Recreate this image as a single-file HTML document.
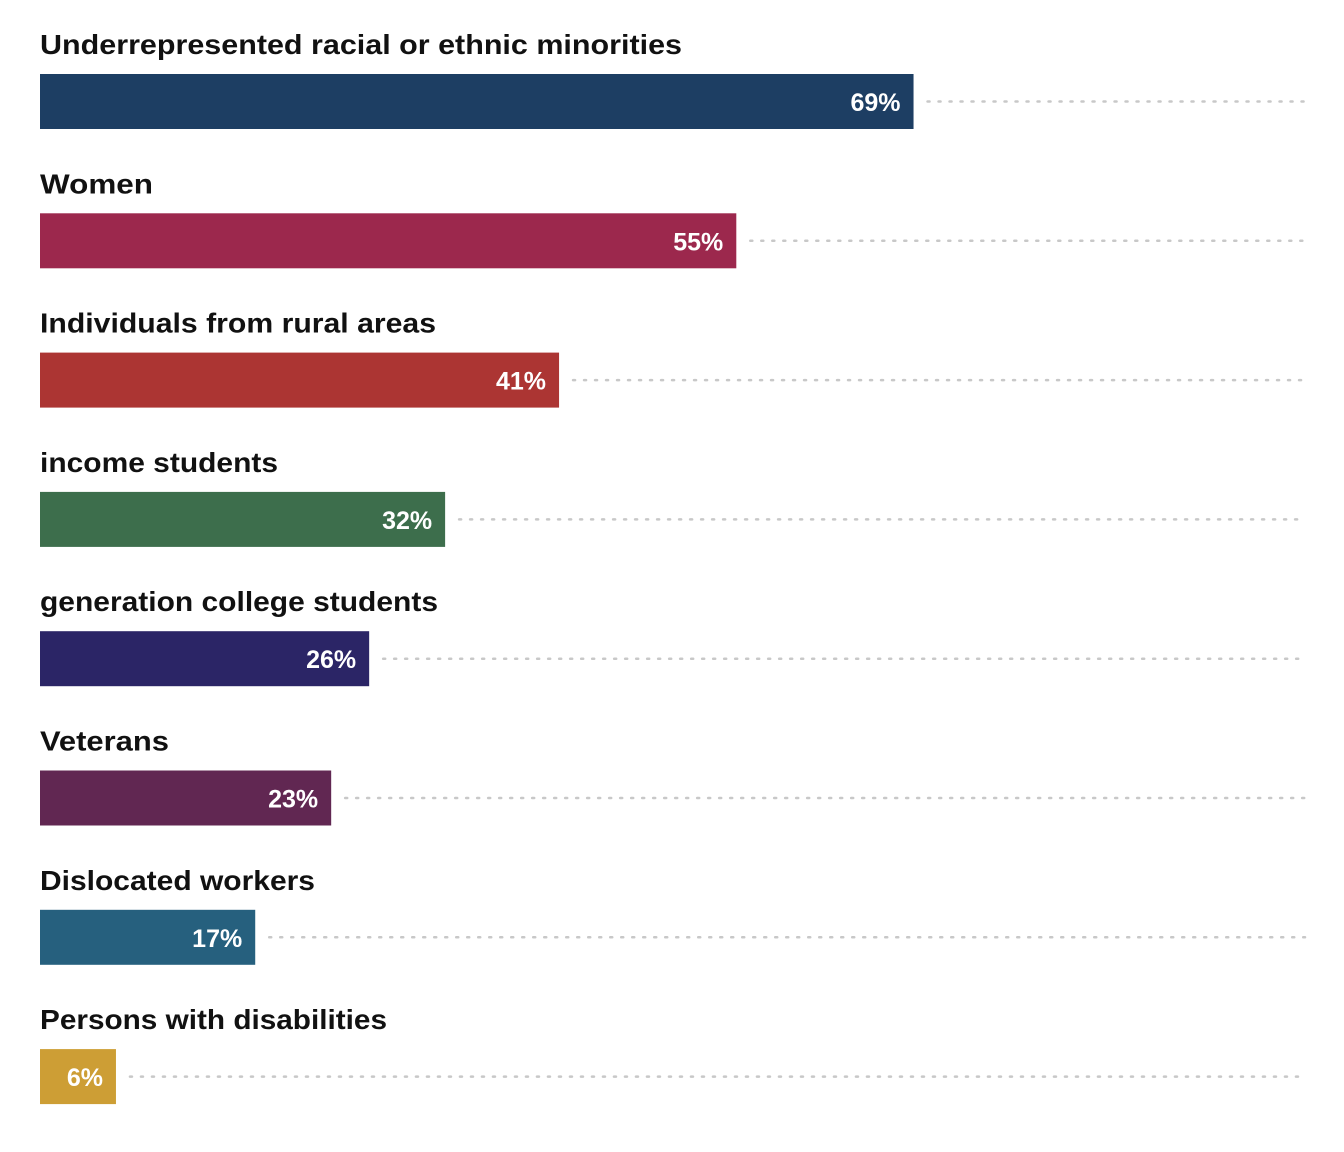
<!DOCTYPE html>
<html><head><meta charset="utf-8">
<style>
html,body{margin:0;padding:0;background:#fff;}
svg{display:block;}
text{font-family:"Liberation Sans",sans-serif;font-weight:bold;}
</style></head>
<body>
<svg id="chart" width="1344" height="1152" viewBox="0 0 1344 1152" xmlns="http://www.w3.org/2000/svg"></svg>
<script>
const categories = ["Underrepresented racial or ethnic minorities","Women","Individuals from rural areas","income students","generation college students","Veterans","Dislocated workers","Persons with disabilities"];
const values = [69,55,41,32,26,23,17,6];
const colors = ["#1d3e63","#9c284d","#ac3533","#3d6e4c","#2b2566","#612752","#26607e","#cd9e35"];
const labelWidths = [642,113,396,238,398,129,275,347];

const svg = document.getElementById('chart');
const NS = 'http://www.w3.org/2000/svg';
const x0 = 40, pxPerPct = 12.66, rowStart = 74, rowStep = 139.3, barH = 55, lineEnd = 1305;
function xScale(v){ return x0 + v * pxPerPct; }
function yRow(i){ return rowStart + i * rowStep; }

categories.forEach((cat, i) => {
  const y = yRow(i);
  const xe = xScale(values[i]);
  const g = document.createElementNS(NS,'g');
  
  

  const lbl = document.createElementNS(NS,'text');
  
  
  lbl.setAttribute('x', x0);
  lbl.setAttribute('y', y - 20);
  lbl.setAttribute('font-size', '28');
  lbl.setAttribute('fill', '#111');
  lbl.setAttribute('textLength', labelWidths[i]);
  lbl.setAttribute('lengthAdjust', 'spacingAndGlyphs');
  lbl.textContent = cat;
  g.appendChild(lbl);

  const line = document.createElementNS(NS,'line');
  
  
  line.setAttribute('x1', xe + 14);
  line.setAttribute('x2', lineEnd);
  line.setAttribute('y1', y + barH/2);
  line.setAttribute('y2', y + barH/2);
  line.setAttribute('stroke', '#c8c8c8');
  line.setAttribute('stroke-width', '2.5');
  line.setAttribute('stroke-dasharray', '2 9');
  line.setAttribute('stroke-linecap', 'round');
  g.appendChild(line);

  const rect = document.createElementNS(NS,'rect');
  
  
  rect.setAttribute('x', x0);
  rect.setAttribute('y', y);
  rect.setAttribute('width', xe - x0);
  rect.setAttribute('height', barH);
  rect.setAttribute('fill', colors[i]);
  g.appendChild(rect);

  const val = document.createElementNS(NS,'text');
  
  
  val.setAttribute('x', xe - 13);
  val.setAttribute('y', y + 37);
  val.setAttribute('font-size', '25');
  val.setAttribute('fill', '#fff');
  val.setAttribute('text-anchor', 'end');
  val.textContent = values[i] + '%';
  g.appendChild(val);

  svg.appendChild(g);
});
</script>
</body></html>
